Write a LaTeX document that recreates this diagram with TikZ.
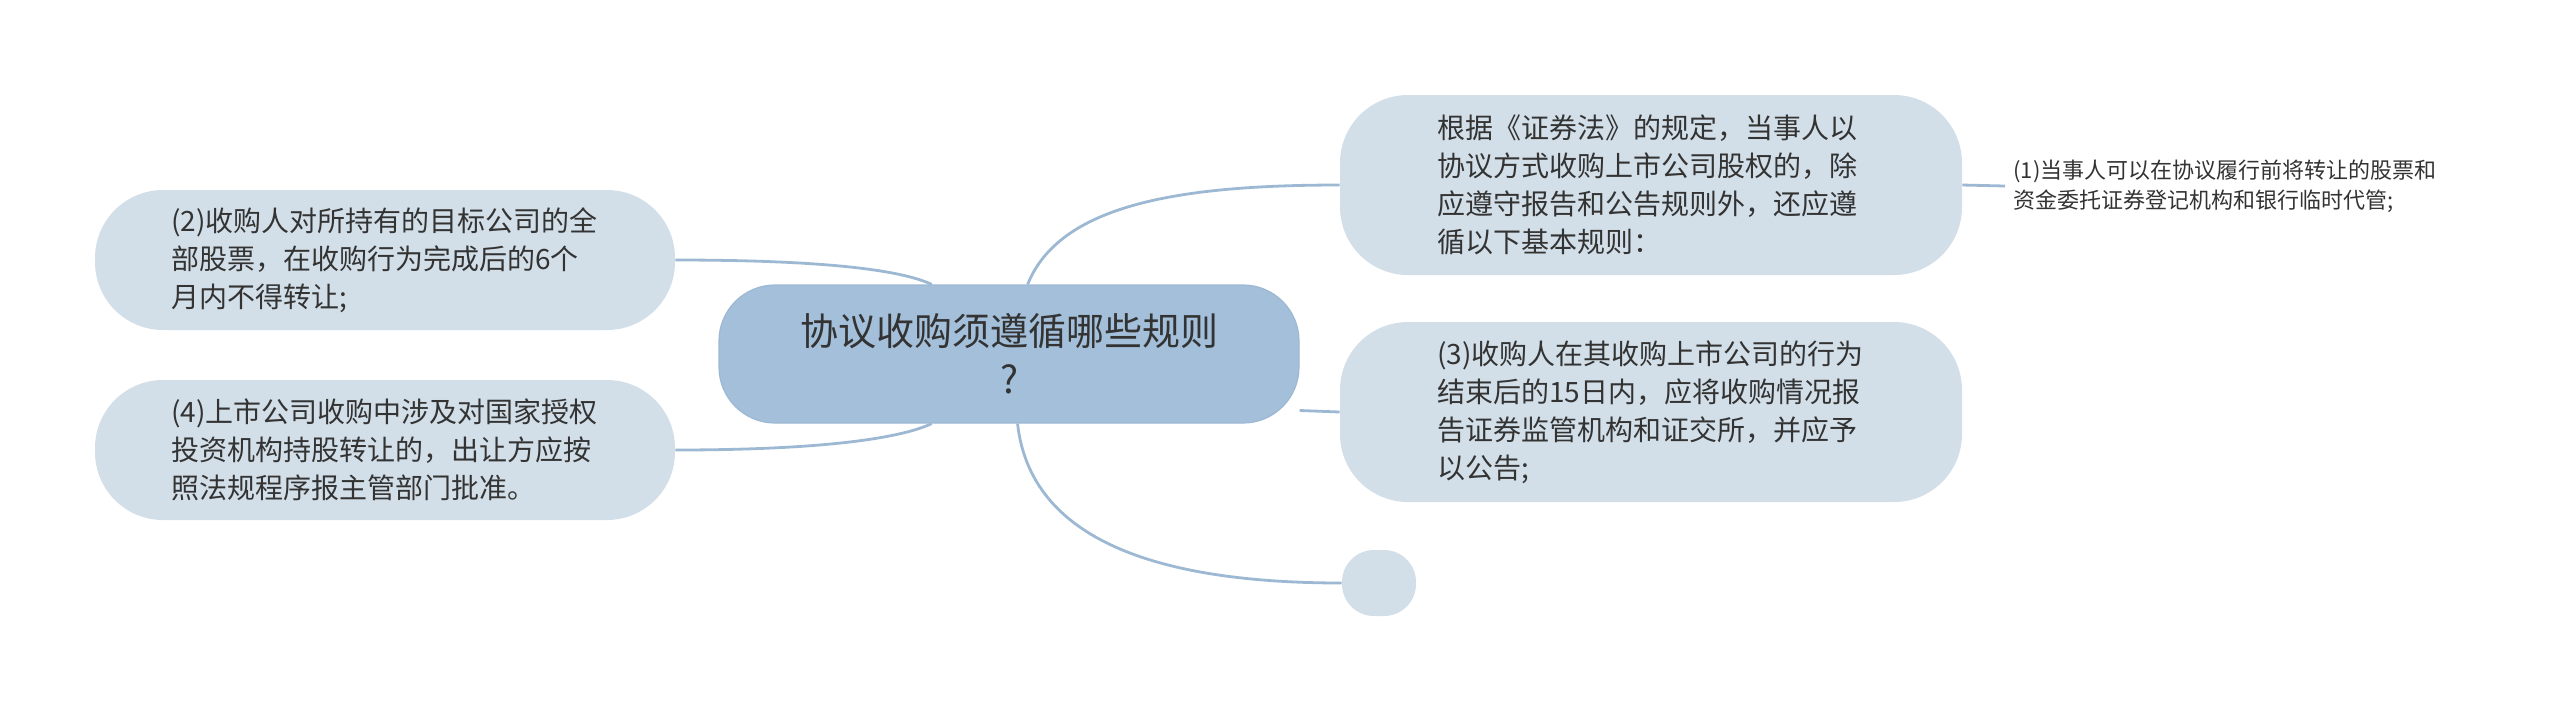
\documentclass[tikz,border=0pt]{standalone}
\usepackage{fontspec}
\setmainfont{Noto Sans CJK SC}
\usepackage{tikz}
\usetikzlibrary{positioning}
\definecolor{topicblue}{HTML}{A3BFDA}
\definecolor{branchgrey}{HTML}{D3DFE8}
\definecolor{linkblue}{HTML}{9DB8D2}
\definecolor{inkgrey}{HTML}{333333}
\tikzstyle{central} = [rectangle, rounded corners=28pt, minimum width=290pt, minimum height=69pt, align=center, fill=topicblue, draw=linkblue, line width=0.6pt, text=inkgrey, font=\fontsize{19pt}{24pt}\selectfont]
\tikzstyle{branch} = [rectangle, rounded corners=34pt, text width=214pt, minimum width=311pt, align=left, fill=branchgrey, text=inkgrey, font=\fontsize{14pt}{19pt}\selectfont]
\tikzstyle{blank} = [rectangle, rounded corners=16pt, minimum width=37pt, minimum height=33pt, fill=branchgrey]
\tikzstyle{leaf} = [align=left, anchor=west, inner sep=4pt, text=inkgrey, font=\fontsize{11pt}{15pt}\selectfont]
\tikzstyle{link} = [draw=linkblue, line width=1.4pt]

\begin{document}
\begin{tikzpicture}[x=0.5pt, y=-0.5pt]
\useasboundingbox (0,0) rectangle (2560,709);

% Nodes
\node (topic) [central] at (1009,354) {协议收购须遵循哪些规则\\?};
\node (rule1) [branch, minimum height=90pt] at (1651,185) {根据《证券法》的规定，当事人以\\协议方式收购上市公司股权的，除\\应遵守报告和公告规则外，还应遵\\循以下基本规则：};
\node (rule3) [branch, minimum height=90pt] at (1651,412) {(3)收购人在其收购上市公司的行为\\结束后的15日内，应将收购情况报\\告证券监管机构和证交所，并应予\\以公告;};
\node (empty) [blank] at (1379,583) {};
\node (rule2) [branch, minimum width=290pt, minimum height=70pt] at (385,260) {(2)收购人对所持有的目标公司的全\\部股票，在收购行为完成后的6个\\月内不得转让;};
\node (rule4) [branch, minimum width=290pt, minimum height=70pt] at (385,450) {(4)上市公司收购中涉及对国家授权\\投资机构持股转让的，出让方应按\\照法规程序报主管部门批准。};
\node (detail1) [leaf] at (2005,186) {(1)当事人可以在协议履行前将转让的股票和\\资金委托证券登记机构和银行临时代管;};

% Links
\draw [link] (topic.75) .. controls +(32,-80) and +(-160,0) .. (rule1.west);
\draw [link] (topic.-11) -- (rule3.west);
\draw [link] (topic.-83) .. controls +(13,117) and +(-183,0) .. (empty.west);
\draw [link] (rule2.east) .. controls +(145,0) and +(-32,-15) .. (topic.138);
\draw [link] (rule4.east) .. controls +(145,0) and +(-32,15) .. (topic.222);
\draw [link] (rule1.east) -- (detail1.west);

\end{tikzpicture}
\end{document}
